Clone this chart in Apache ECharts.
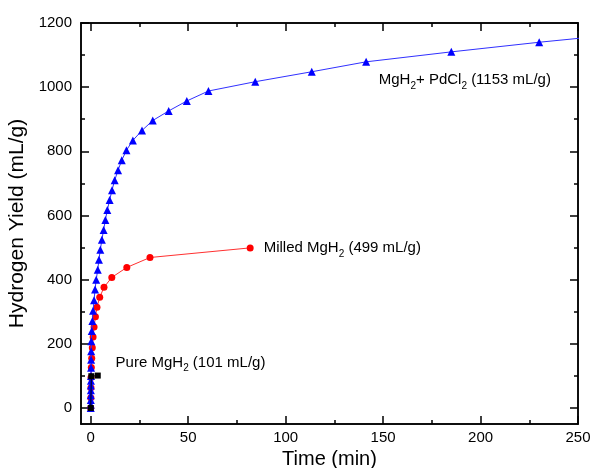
<!DOCTYPE html>
<html>
<head>
<meta charset="utf-8">
<script src="https://cdn.jsdelivr.net/npm/echarts@6/dist/echarts.min.js"></script>
<style>html,body{margin:0;padding:0;background:#fff;}#c{width:594px;height:468px;}</style>
</head>
<body>
<div id="c"></div>
<script>
// ---- data ----
const pdcl2Time  = [0, 0.01, 0.02, 0.04, 0.06, 0.08, 0.1, 0.12, 0.15, 0.18, 0.22, 0.3, 0.5, 0.85, 1.2, 1.7, 2.2, 2.8, 3.6, 4.2, 4.9, 5.7, 6.6, 7.5, 8.5, 9.7, 10.9, 12.3, 14.0, 15.9, 18.3, 21.6, 26.3, 31.8, 40.0, 49.3, 60.4, 84.4, 113.4, 141.3, 185.0, 230.1, 255.0];
const pdcl2Yield = [0, 10, 25, 40, 55, 70, 85, 100, 125, 150, 177, 208, 240, 271, 303, 336, 369, 400, 431, 462, 493, 524, 555, 586, 617, 648, 679, 710, 741, 772, 803, 834, 865, 896, 926, 957, 988, 1017, 1048, 1079, 1110, 1140, 1155];
const milledTime  = [0, 0.05, 0.1, 0.15, 0.3, 0.5, 0.8, 1.2, 1.7, 2.4, 3.2, 4.6, 6.8, 10.8, 18.5, 30.4, 81.8];
const milledYield = [0, 32, 63, 95, 126, 155, 188, 221, 252, 284, 314, 345, 376, 407, 438, 469, 499];
const pureTime  = [0, 0.3, 3.6];
const pureYield = [0, 99, 101];
const xMajorTicks = [0, 50, 100, 150, 200, 250];
const xMinorTicks = [25, 75, 125, 175, 225];
const yMajorTicks = [0, 200, 400, 600, 800, 1000, 1200];
const yMinorTicks = [100, 300, 500, 700, 900, 1100];
const pdcl2LabelAt  = [147.5, 1023];
const pureLabelAt   = [12.5, 142];

const FONT = 'Liberation Sans, Arial, sans-serif';
const zip = (a, b) => a.map((v, i) => [v, b[i]]);
const rich = {
  n: {fontSize: 15, color: '#000', fontFamily: FONT, lineHeight: 22},
  s: {fontSize: 10, color: '#000', fontFamily: FONT, padding: [12, 0, 0, 0], lineHeight: 22}
};
const axLine = {show: true, onZero: false, lineStyle: {color: '#000', width: 1.5}};
const X_MIN = -5, X_MAX = 250, Y_MIN = -50, Y_MAX = 1200;

function xAx(pos, ticks, len, labels, name) {
  return {
    type: 'value', position: pos, min: X_MIN, max: X_MAX,
    axisLine: axLine, splitLine: {show: false},
    axisTick: {show: true, inside: true, length: len, customValues: ticks, lineStyle: {color: '#000', width: 1.5}},
    axisLabel: labels ? {show: true, customValues: ticks, formatter: v => String(v), fontSize: 15, color: '#000', fontFamily: FONT, margin: 6} : {show: false},
    name: name || '', nameLocation: 'middle', nameGap: 23,
    nameTextStyle: {fontSize: 20, color: '#000', fontFamily: FONT}
  };
}
function yAx(pos, ticks, len, labels, name) {
  return {
    type: 'value', position: pos, min: Y_MIN, max: Y_MAX,
    axisLine: axLine, splitLine: {show: false},
    axisTick: {show: true, inside: true, length: len, customValues: ticks, lineStyle: {color: '#000', width: 1.5}},
    axisLabel: labels ? {show: true, customValues: ticks, formatter: v => String(v), fontSize: 15, color: '#000', fontFamily: FONT, margin: 9} : {show: false},
    name: name || '', nameLocation: 'middle', nameGap: 49,
    nameTextStyle: {fontSize: 21, color: '#000', fontFamily: FONT}
  };
}

const chart = echarts.init(document.getElementById('c'), null, {renderer: 'canvas'});
chart.setOption({
  animation: false,
  backgroundColor: '#fff',
  grid: {left: 81, right: 16, top: 23, bottom: 44, containLabel: false, outerBoundsMode: 'none'},
  xAxis: [
    xAx('bottom', xMajorTicks, 8, true, 'Time (min)'),
    xAx('bottom', xMinorTicks, 4, false),
    xAx('top', xMajorTicks, 8, false),
    xAx('top', xMinorTicks, 4, false)
  ],
  yAxis: [
    yAx('left', yMajorTicks, 8, true, 'Hydrogen Yield (mL/g)'),
    yAx('left', yMinorTicks, 4, false),
    yAx('right', yMajorTicks, 8, false),
    yAx('right', yMinorTicks, 4, false)
  ],
  series: [
    {
      name: 'Milled MgH2', type: 'line', data: zip(milledTime, milledYield).map((p, i, arr) => i === arr.length - 1 ? {
        value: p,
        label: {show: true, position: 'right', distance: 10, formatter: '{n|Milled MgH}{s|2}{n| (499 mL/g)}', rich: rich}
      } : p),
      symbol: 'circle', symbolSize: 7,
      itemStyle: {color: '#ff0000'},
      lineStyle: {color: '#ff3030', width: 1},
      z: 2
    },
    {
      name: 'MgH2 + PdCl2', type: 'line', data: zip(pdcl2Time, pdcl2Yield),
      symbol: 'triangle', symbolSize: 8,
      itemStyle: {color: '#0000ff'},
      lineStyle: {color: '#3030ff', width: 1},
      z: 3,
      markPoint: {
        symbol: 'rect', symbolSize: 1, itemStyle: {color: 'transparent'},
        data: [{coord: pdcl2LabelAt, label: {show: true, position: 'right', distance: 0, formatter: '{n|MgH}{s|2}{n|+ PdCl}{s|2}{n| (1153 mL/g)}', rich: rich}}]
      }
    },
    {
      name: 'Pure MgH2', type: 'line', data: zip(pureTime, pureYield),
      symbol: 'rect', symbolSize: 6,
      itemStyle: {color: '#000'},
      lineStyle: {color: '#000', width: 1},
      z: 4,
      markPoint: {
        symbol: 'rect', symbolSize: 1, itemStyle: {color: 'transparent'},
        data: [{coord: pureLabelAt, label: {show: true, position: 'right', distance: 0, formatter: '{n|Pure MgH}{s|2}{n| (101 mL/g)}', rich: rich}}]
      }
    }
  ]
});
</script>
</body>
</html>
